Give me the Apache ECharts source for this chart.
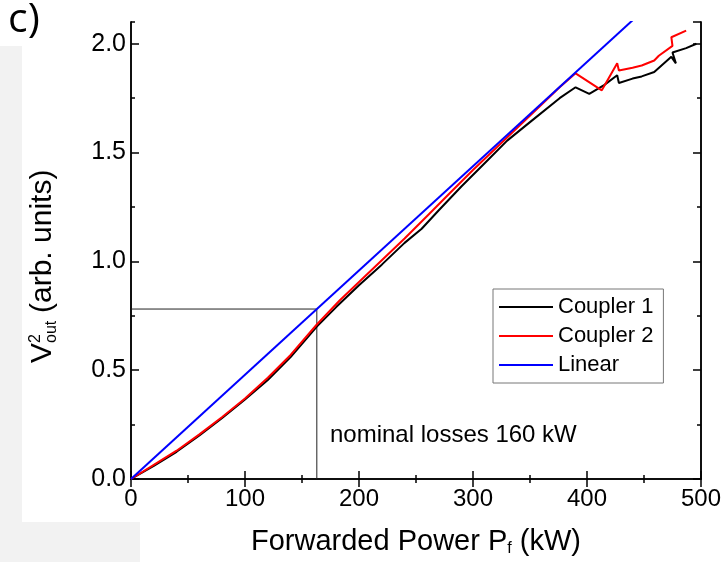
<!DOCTYPE html>
<html><head><meta charset="utf-8">
<script src="https://cdn.jsdelivr.net/npm/echarts@6/dist/echarts.min.js"></script>
<style>html,body{margin:0;padding:0;background:#fff}#c{width:724px;height:562px}</style>
</head><body><div id="c"></div>
<script>
var xTicks = [0, 100, 200, 300, 400, 500];
var yTicks = [0, 0.5, 1.0, 1.5, 2.0];
var coupler1 = [[0,0],[20,0.06],[40,0.125],[60,0.2],[80,0.28],[100,0.365],[120,0.455],[140,0.56],[163,0.70],[180,0.79],[200,0.89],[220,0.985],[240,1.085],[255,1.15],[270,1.235],[290,1.345],[310,1.45],[330,1.555],[350,1.64],[376,1.75],[390,1.80],[402,1.77],[415,1.81],[426.5,1.855],[428,1.82],[440,1.84],[448,1.85],[459,1.87],[474,1.94],[478,1.91],[475,1.96],[487,1.98],[496,2.0]];
var coupler2 = [[0,0],[20,0.065],[40,0.13],[60,0.205],[80,0.285],[100,0.37],[120,0.465],[140,0.57],[163,0.71],[183,0.82],[200,0.905],[220,1.005],[240,1.105],[260,1.21],[280,1.315],[300,1.42],[320,1.52],[340,1.62],[360,1.72],[376,1.80],[390,1.864],[413,1.786],[426.5,1.91],[428,1.877],[440,1.89],[448,1.90],[459,1.923],[463,1.945],[475,1.99],[474,2.03],[487,2.06]];
var linear = [[0,0],[440,2.108]];
var nominalX = 163, nominalY = 0.781;
var nominalGuide = [[0,nominalY],[nominalX,nominalY],[nominalX,0]];
var seriesNames = ['Coupler 1','Coupler 2','Linear'];

var FONT = '"Liberation Sans", Arial, sans-serif';
var chart = echarts.init(document.getElementById('c'), null, {renderer:'canvas'});
function xAx(pos, labels){
  return {type:'value', position:pos, min:0, max:500, interval:100,
    axisLine:{show:true, lineStyle:{color:'#000', width:1.5}},
    axisTick:{show:true, inside:true, length:8, lineStyle:{color:'#000', width:1.5}},
    minorTick:{show:true, splitNumber:2, length:4, lineStyle:{color:'#000', width:1.5}},
    splitLine:{show:false}, minorSplitLine:{show:false},
    axisLabel:{show:labels, color:'#000', fontSize:24, fontFamily:FONT, margin:8},
    name: labels ? 'Forwarded Power P{sub|f} (kW)' : '', nameLocation:'middle', nameGap:47,
    nameTextStyle:{color:'#000', fontSize:29, fontFamily:FONT, rich:{sub:{fontSize:16, fontFamily:FONT, color:'#000', verticalAlign:'bottom', padding:[15,0,0,0]}}}
  };
}
function yAx(pos, labels, interval, len){
  return {type:'value', position:pos, min:0, max:2.1, interval:interval,
    axisLine:{show:true, lineStyle:{color:'#000', width:1.5}},
    axisTick:{show:true, inside:true, length:len, lineStyle:{color:'#000', width:1.5}},
    splitLine:{show:false},
    axisLabel:{show:labels, color:'#000', fontSize:25, fontFamily:FONT, margin:5, showMaxLabel:false,
      formatter:function(v){return v.toFixed(1);}}
  };
}
chart.setOption({
  animation:false,
  backgroundColor:'#fff',
  grid:{left:131, top:22, right:22, bottom:79, containLabel:false},
  xAxis:[xAx('bottom', true), xAx('top', false)],
  yAxis:[yAx('left', true, 0.5, 8), yAx('left', false, 0.25, 4), yAx('right', false, 0.5, 8), yAx('right', false, 0.25, 4)],
  legend:{data:seriesNames, orient:'vertical', left:493, top:289, itemWidth:54, itemHeight:22, itemGap:7,
    borderColor:'#777', borderWidth:1, padding:[7,10,7,5], backgroundColor:'#fff',
    itemStyle:{opacity:0}, lineStyle:{width:2, opacity:1},
    textStyle:{color:'#000', fontSize:22, fontFamily:FONT}},
  graphic:[
    {type:'rect', shape:{x:0,y:46,width:22,height:516}, style:{fill:'#f2f2f2'}, z:-10},
    {type:'rect', shape:{x:0,y:522,width:140,height:40}, style:{fill:'#f2f2f2'}, z:-10},
    {type:'text', left:8, top:0, style:{text:'c)', fontSize:41, fontFamily:'"Open Sans", "Noto Sans", sans-serif', fill:'#000'}},
    {type:'text', left:330, top:423, style:{text:'nominal losses 160 kW', fontSize:24, fontFamily:FONT, fill:'#000'}},
    {type:'group', x:43, y:363, rotation:Math.PI/2, children:[
      {type:'text', x:0, y:0, style:{text:'V', fontSize:30, fontFamily:FONT, fill:'#000', align:'left', verticalAlign:'middle'}},
      {type:'text', x:20, y:-7, style:{text:'2', fontSize:16, fontFamily:FONT, fill:'#000', align:'left', verticalAlign:'middle'}},
      {type:'text', x:20, y:9, style:{text:'out', fontSize:16, fontFamily:FONT, fill:'#000', align:'left', verticalAlign:'middle'}},
      {type:'text', x:50, y:0, style:{text:'(arb. units)', fontSize:30, fontFamily:FONT, fill:'#000', align:'left', verticalAlign:'middle'}}
    ]}
  ],
  series:[
    {name:'guide', type:'line', data:nominalGuide, symbol:'none', lineStyle:{color:'#222', width:1}, z:1, silent:true},
    {name:seriesNames[0], type:'line', data:coupler1, symbol:'none', lineStyle:{color:'#000', width:2}, itemStyle:{color:'#000'}, z:3},
    {name:seriesNames[1], type:'line', data:coupler2, symbol:'none', lineStyle:{color:'#ff0000', width:2}, itemStyle:{color:'#ff0000'}, z:4},
    {name:seriesNames[2], type:'line', data:linear, symbol:'none', lineStyle:{color:'#0000ff', width:2}, itemStyle:{color:'#0000ff'}, z:5}
  ]
});
</script></body></html>
